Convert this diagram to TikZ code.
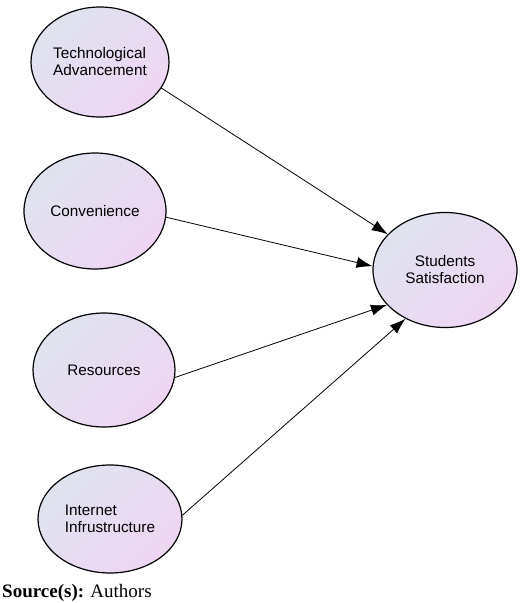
\documentclass[tikz,border=0pt]{standalone}
\usepackage{fontspec}
\setmainfont{Liberation Serif}
\newfontfamily\arialfont{Liberation Sans}
\usetikzlibrary{shapes.geometric,arrows.meta}
\definecolor{ovalblue}{HTML}{DFE3EE}
\definecolor{ovalpink}{HTML}{EED6F3}
\tikzset{
  OvalStyle/.style = {
  shape = ellipse,
  draw, line width = 1.2pt,
  top color = ovalblue,
  bottom color = ovalpink,
  shading angle = 45,
  inner sep = 0pt,
  minimum width = 142pt,
  minimum height = 112pt,
  font = \arialfont\fontsize{15.3}{17}\selectfont},
  LinkStyle/.style = {
  thick,
  -{Latex[length=16pt,width=11pt]}}}
\begin{document}
\begin{tikzpicture}[x=1pt, y=-1pt]
  \useasboundingbox (0,0) rectangle (520,603);
  % factors on the left
  \node[OvalStyle, align=left, minimum width=138pt, minimum height=110pt] (tech) at (100,62) {Technological\\Advancement};
  \node[OvalStyle, align=left, minimum height=116pt] (conv) at (95,211) {Convenience};
  \node[OvalStyle, align=left, minimum height=114pt] (res)  at (104,370) {Resources};
  \node[OvalStyle, align=left, minimum width=144pt, minimum height=108pt] (inet) at (110,519) {Internet\\Infrustructure};
  % outcome
  \node[OvalStyle, align=center, minimum width=144pt, minimum height=115pt] (sat) at (445,270) {Students\\Satisfaction};
  \draw[LinkStyle] (tech.-23.6) -- (sat.148.5);
  \draw[LinkStyle] (conv.-5.6)  -- (sat.177.6);
  \draw[LinkStyle] (res.-6.4)   -- (sat.-149);
  \draw[LinkStyle] (inet.3)     -- (sat.-129);
  \node[anchor=base west, inner sep=0pt, font=\fontsize{19}{22}\selectfont] (src) at (2,597) {\textbf{Source(s):} Authors};
\end{tikzpicture}
\end{document}
